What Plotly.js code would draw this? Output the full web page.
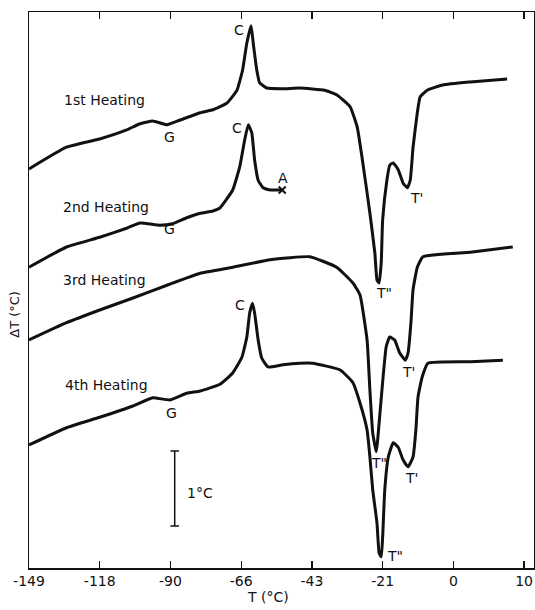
<!DOCTYPE html>
<html>
<head>
<meta charset="utf-8">
<script src="https://cdn.plot.ly/plotly-3.0.1.min.js"></script>
<style>html,body{margin:0;padding:0;background:#fff;}#chart{width:535px;height:610px;}</style>
</head>
<body>
<div id="chart"></div>
<script>
// Temperature axis: ticks are equally spaced on the instrument scale (position units 0..7)
var tickPos = [0, 1, 2, 3, 4, 5, 6, 7];
var tickLabels = ['-149', '-118', '-90', '-66', '-43', '-21', '0', '10'];

// 1st heating (x in tick-position units, y = ΔT in °C with offsets)
var h1x = [0, 0.53, 1.0, 1.38, 1.56, 1.75, 1.95, 2.13, 2.42, 2.60, 2.80, 2.94, 3.02, 3.08, 3.14, 3.17, 3.22, 3.26, 3.36, 3.59, 3.83, 4.18, 4.35, 4.54, 4.64, 4.72, 4.82, 4.89, 4.92, 4.95, 4.98, 5.00, 5.06, 5.10, 5.15, 5.22, 5.29, 5.35, 5.39, 5.43, 5.49, 5.53, 5.63, 5.85, 6.24, 6.76];
var h1y = [5.32, 5.61, 5.72, 5.84, 5.92, 5.96, 5.91, 5.97, 6.07, 6.11, 6.20, 6.37, 6.64, 7.00, 7.23, 7.00, 6.64, 6.47, 6.40, 6.39, 6.40, 6.37, 6.31, 6.15, 5.88, 5.40, 4.73, 4.20, 3.84, 3.80, 4.07, 4.64, 5.17, 5.37, 5.40, 5.31, 5.13, 5.07, 5.17, 5.61, 6.07, 6.28, 6.37, 6.44, 6.48, 6.52];

// 2nd heating (stopped at A)
var h2x = [0, 0.53, 1.0, 1.38, 1.57, 1.85, 2.03, 2.23, 2.42, 2.60, 2.70, 2.88, 2.98, 3.05, 3.10, 3.15, 3.19, 3.24, 3.31, 3.41, 3.58];
var h2y = [4.01, 4.28, 4.41, 4.53, 4.60, 4.57, 4.59, 4.67, 4.73, 4.76, 4.80, 5.04, 5.35, 5.71, 5.91, 5.80, 5.44, 5.17, 5.07, 5.04, 5.04];

// 3rd heating
var h3x = [0, 0.53, 1.0, 1.47, 1.95, 2.42, 2.88, 3.41, 3.97, 4.35, 4.58, 4.68, 4.78, 4.82, 4.86, 4.91, 4.93, 4.99, 5.05, 5.10, 5.17, 5.24, 5.32, 5.36, 5.40, 5.43, 5.49, 5.57, 6.24, 6.84];
var h3y = [3.04, 3.27, 3.44, 3.60, 3.77, 3.93, 4.01, 4.11, 4.15, 4.01, 3.80, 3.64, 3.04, 2.37, 1.80, 1.55, 1.71, 2.37, 2.95, 3.08, 3.04, 2.87, 2.77, 2.87, 3.27, 3.71, 4.01, 4.15, 4.21, 4.28];

// 4th heating
var h4x = [0, 0.53, 1.0, 1.47, 1.75, 1.99, 2.23, 2.42, 2.70, 2.88, 3.01, 3.08, 3.12, 3.16, 3.19, 3.24, 3.29, 3.38, 3.59, 3.83, 4.01, 4.40, 4.58, 4.68, 4.78, 4.82, 4.86, 4.92, 4.95, 4.98, 5.00, 5.03, 5.08, 5.15, 5.22, 5.29, 5.36, 5.43, 5.47, 5.50, 5.56, 5.64, 6.24, 6.70];
var h4y = [1.64, 1.87, 2.01, 2.16, 2.27, 2.24, 2.33, 2.36, 2.45, 2.60, 2.81, 3.08, 3.40, 3.53, 3.40, 3.04, 2.80, 2.68, 2.71, 2.73, 2.73, 2.64, 2.47, 2.20, 1.84, 1.48, 1.04, 0.60, 0.20, 0.15, 0.41, 1.04, 1.48, 1.67, 1.61, 1.44, 1.35, 1.48, 1.84, 2.28, 2.55, 2.73, 2.75, 2.77];

var curveLabels = ['1st Heating', '2nd Heating', '3rd Heating', '4th Heating'];

var lineStyle = {color: '#111', width: 3, shape: 'spline', smoothing: 0.4};
function tr(x, y, name) {
  return {x: x, y: y, name: name, type: 'scatter', mode: 'lines', line: lineStyle, hoverinfo: 'skip'};
}
var data = [
  tr(h1x, h1y, curveLabels[0]),
  tr(h2x, h2y, curveLabels[1]),
  tr(h3x, h3y, curveLabels[2]),
  tr(h4x, h4y, curveLabels[3]),
  {x: [h2x[h2x.length - 1]], y: [h2y[h2y.length - 1]], type: 'scatter', mode: 'markers',
   marker: {symbol: 'x-thin', size: 7, line: {color: '#111', width: 2}}, showlegend: false, hoverinfo: 'skip'}
];

var F = 'DejaVu Sans, sans-serif';
function ann(x, y, text, size) {
  return {x: x, y: y, xref: 'x', yref: 'y', text: text, showarrow: false,
          font: {family: F, size: size || 14, color: '#111'}, xanchor: 'center', yanchor: 'middle'};
}
var annotations = [
  ann(1.07, 6.24, curveLabels[0]),
  ann(1.09, 4.81, curveLabels[1]),
  ann(1.07, 3.84, curveLabels[2]),
  ann(1.09, 2.44, curveLabels[3]),
  ann(2.97, 7.17, 'C'),
  ann(2.94, 5.87, 'C'),
  ann(2.99, 3.51, 'C'),
  ann(1.99, 5.75, 'G'),
  ann(1.99, 4.52, 'G'),
  ann(2.02, 2.07, 'G'),
  ann(5.48, 4.93, "T'"),
  ann(5.02, 3.67, 'T"'),
  ann(5.36, 2.61, "T'"),
  ann(4.95, 1.40, 'T"'),
  ann(5.41, 1.20, "T'"),
  ann(5.17, 0.16, 'T"'),
  ann(3.59, 5.20, 'A'),
  ann(2.42, 1.00, '1\u00b0C'),
  {xref: 'paper', yref: 'paper', x: -0.028, y: 0.457, text: '\u0394T (\u00b0C)', textangle: -90, showarrow: false,
   font: {family: F, size: 13, color: '#111'}, xanchor: 'center', yanchor: 'middle'},
  {xref: 'paper', yref: 'paper', x: 0.473, y: -0.052, text: 'T (\u00b0C)', showarrow: false,
   font: {family: F, size: 14, color: '#111'}, xanchor: 'center', yanchor: 'middle'}
];

var shapes = [
  {type: 'line', xref: 'x', yref: 'y', x0: 2.06, x1: 2.06, y0: 0.56, y1: 1.56, line: {color: '#111', width: 1.5}},
  {type: 'line', xref: 'x', yref: 'y', x0: 2.00, x1: 2.12, y0: 1.56, y1: 1.56, line: {color: '#111', width: 1.5}},
  {type: 'line', xref: 'x', yref: 'y', x0: 2.00, x1: 2.12, y0: 0.56, y1: 0.56, line: {color: '#111', width: 1.5}}
];

var layout = {
  width: 535, height: 610,
  margin: {l: 29, r: 1, t: 12, b: 42},
  paper_bgcolor: '#fff', plot_bgcolor: '#fff',
  showlegend: false,
  xaxis: {
    range: [0, 7.14], tickvals: tickPos, ticktext: tickLabels,
    ticks: 'inside', ticklen: 7, tickwidth: 1.2, tickcolor: '#111',
    showline: true, linecolor: '#111', linewidth: 1.5, mirror: 'ticks',
    showgrid: false, zeroline: false,
    tickfont: {family: F, size: 14, color: '#111'}
  },
  yaxis: {
    range: [0, 7.413], showticklabels: false, ticks: '',
    showline: true, linecolor: '#111', linewidth: 1.5, mirror: true,
    showgrid: false, zeroline: false
  },
  annotations: annotations,
  shapes: shapes
};

Plotly.newPlot('chart', data, layout, {staticPlot: true, displayModeBar: false});
</script>
</body>
</html>
